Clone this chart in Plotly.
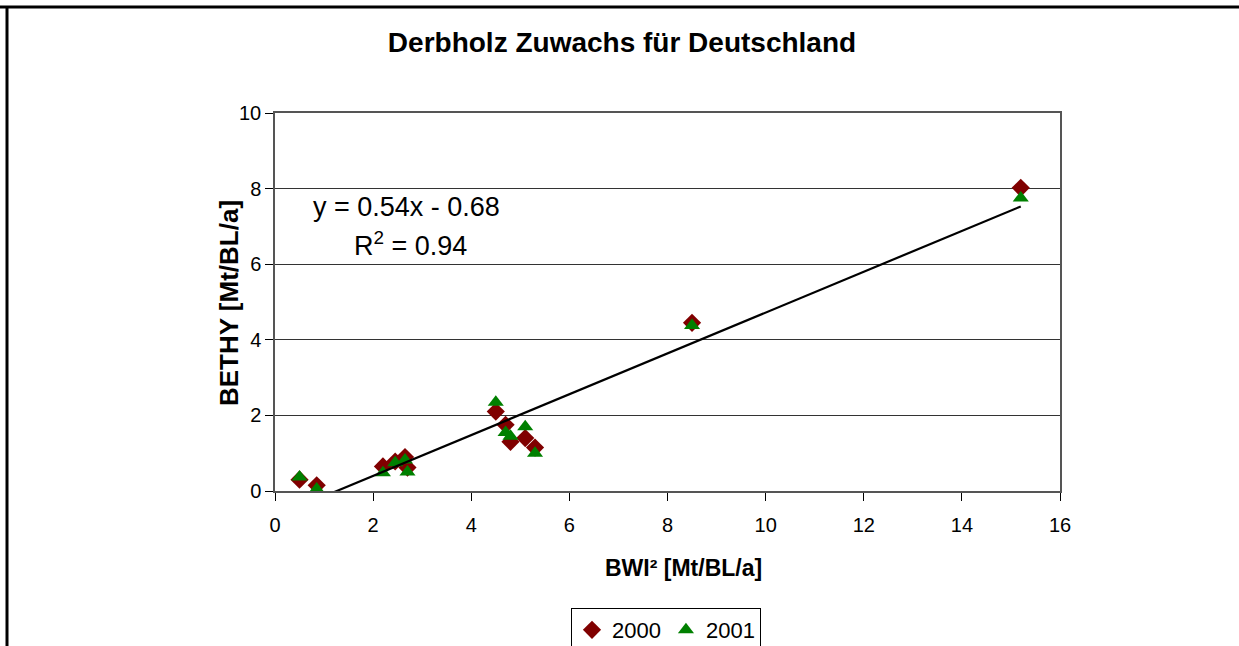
import plotly.graph_objects as go

# Data
bwi_x   = [0.5, 0.85, 2.2, 2.45, 2.65, 2.7, 4.5, 4.7, 4.8, 5.1, 5.3, 8.5, 15.2]
bethy_2000 = [0.30, 0.15, 0.65, 0.78, 0.90, 0.62, 2.10, 1.75, 1.30, 1.40, 1.15, 4.45, 8.02]
bethy_2001 = [0.37, 0.05, 0.48, 0.75, 0.82, 0.50, 2.35, 1.55, 1.45, 1.70, 1.00, 4.38, 7.75]
trend_slope = 0.54
trend_intercept = -0.68
r_squared = 0.94

x_ticks = [0, 2, 4, 6, 8, 10, 12, 14, 16]
y_ticks = [0, 2, 4, 6, 8, 10]

FONT = "Liberation Sans, Arial, sans-serif"

fig = go.Figure()
fig.add_trace(go.Scatter(
    x=bwi_x, y=bethy_2000, mode="markers", name="2000",
    marker=dict(symbol="diamond", size=14, color="#800000", line=dict(width=0)),
))
fig.add_trace(go.Scatter(
    x=bwi_x, y=bethy_2001, mode="markers", name="2001",
    marker=dict(symbol="triangle-up", size=14, color="#008000", line=dict(width=0)),
))
tx = [min(bwi_x), max(bwi_x)]
ty = [trend_slope * v + trend_intercept for v in tx]
fig.add_trace(go.Scatter(
    x=tx, y=ty, mode="lines", showlegend=False,
    line=dict(color="black", width=2.2), hoverinfo="skip",
))

W, H = 1239, 646
L, R, T, B = 275, 179, 113, 155
pw, ph = W - L - R, H - T - B

def px(xp):
    return (xp - L) / pw

def py(yp):
    return (H - B - yp) / ph

fig.update_layout(
    width=W, height=H, autosize=False,
    margin=dict(l=L, r=R, t=T, b=B, autoexpand=False),
    paper_bgcolor="white", plot_bgcolor="white",
    font=dict(family=FONT, size=19, color="black"),
    title=dict(text="<b>Derbholz Zuwachs für Deutschland</b>", x=622 / W, xanchor="center",
               y=1 - 42 / H, yanchor="middle", font=dict(size=28, family=FONT)),
    xaxis=dict(
        range=[0, 16], tickvals=x_ticks, ticks="outside", ticklen=8, tickcolor="black",
        showgrid=False, zeroline=False, showline=True, linecolor="#555", linewidth=1.5,
        mirror=True, ticklabelstandoff=7, automargin=False,
        tickfont=dict(size=20, family=FONT),
    ),
    yaxis=dict(
        range=[0, 10], tickvals=y_ticks, ticks="outside", ticklen=8, tickcolor="black",
        showgrid=True, gridcolor="#333", gridwidth=1, zeroline=False,
        showline=True, linecolor="#555", linewidth=1.5, mirror=True,
        ticklabelstandoff=0, automargin=False,
        tickfont=dict(size=20, family=FONT),
    ),
    legend=dict(
        orientation="h", x=px(666), xanchor="center", y=py(608), yanchor="top",
        bordercolor="black", borderwidth=1, bgcolor="white",
        font=dict(size=22, family=FONT), itemwidth=30, tracegroupgap=0,
    ),
    showlegend=True,
)

# Axis titles
fig.add_annotation(
    xref="paper", yref="paper", x=px(683), y=py(568), xanchor="center", yanchor="middle",
    text="<b>BWI² [Mt/BL/a]</b>", showarrow=False, font=dict(size=23, family=FONT),
)
fig.add_annotation(
    xref="paper", yref="paper", x=px(229), y=py(303), xanchor="center", yanchor="middle",
    text="<b>BETHY [Mt/BL/a]</b>", showarrow=False, textangle=-90,
    font=dict(size=26, family=FONT),
)

# Trendline equation
fig.add_annotation(
    xref="paper", yref="paper", x=px(406), y=py(207), xanchor="center", yanchor="middle",
    text=f"y = {trend_slope:.2f}x - {abs(trend_intercept):.2f}", showarrow=False,
    font=dict(size=27, family=FONT),
)
fig.add_annotation(
    xref="paper", yref="paper", x=px(410), y=py(244), xanchor="center", yanchor="middle",
    text=f"R<sup>2</sup> = {r_squared:.2f}", showarrow=False,
    font=dict(size=27, family=FONT),
)

# Outer frame (top and left edges visible in the cropped reference)
fig.add_shape(type="line", xref="paper", yref="paper",
              x0=px(0), x1=px(W), y0=py(7), y1=py(7), line=dict(color="black", width=3))
fig.add_shape(type="line", xref="paper", yref="paper",
              x0=px(7), x1=px(7), y0=py(6), y1=py(H + 5), line=dict(color="black", width=3))

fig.write_html(
    "out.html",
    config={"responsive": False, "displayModeBar": False},
    post_script="document.body.style.margin='0';document.body.style.overflow='hidden';",
)
